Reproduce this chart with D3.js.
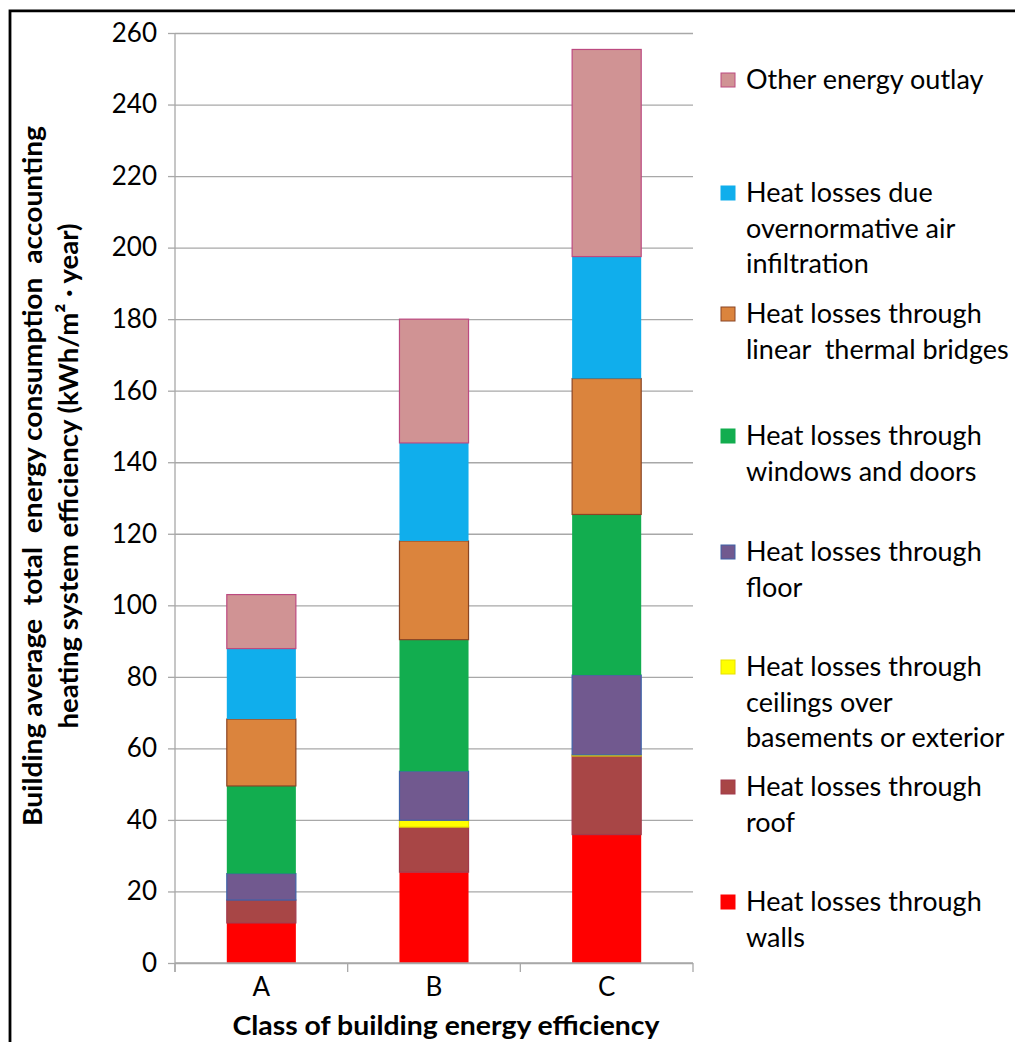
<!DOCTYPE html>
<html>
<head>
<meta charset="utf-8">
<script src="https://cdn.jsdelivr.net/npm/d3@7"></script>
<style>
  html, body { margin: 0; padding: 0; background: #fff; }
  svg { display: block; }
  text { font-family: Lato, "Open Sans", sans-serif; fill: #000; }
</style>
</head>
<body>
<div id="chart"></div>
<script>
// Building energy classes on the x axis
const categories = ["A", "B", "C"];

// Components of energy consumption, kWh/(m²·year), stacked bottom to top
const seriesKeys = ["walls", "roof", "ceilings", "floor", "windows", "bridges", "infiltration", "other"];
const walls        = [11.2, 25.4, 35.9];
const roof         = [6.4, 12.6, 22.0];
const ceilings     = [0.0, 1.9, 0.3];
const floorLoss    = [7.4, 13.7, 22.3];
const windows      = [24.5, 36.8, 44.9];
const bridges      = [18.7, 27.6, 38.0];
const infiltration = [19.7, 27.4, 34.1];
const other        = [15.1, 34.6, 57.9];

const yTicks = [0, 20, 40, 60, 80, 100, 120, 140, 160, 180, 200, 220, 240, 260];

// Legend entries, listed top to bottom, each broken into its text lines
const legendKeys = ["other", "infiltration", "bridges", "windows", "floor", "ceilings", "roof", "walls"];
const legendLabels = [
  ["Other energy outlay"],
  ["Heat losses due", "overnormative air", "infiltration"],
  ["Heat losses through", "linear  thermal bridges"],
  ["Heat losses through", "windows and doors"],
  ["Heat losses through", "floor"],
  ["Heat losses through", "ceilings over", "basements or exterior"],
  ["Heat losses through", "roof"],
  ["Heat losses through", "walls"]
];

const yTitleLines = ["Building average  total  energy consumption  accounting",
                     "heating system efficiency (kWh/m\u00B2 \u00B7 year)"];
const xTitle = "Class of building energy efficiency";

// ---- styling ----
const fills = {
  walls: "#FF0000", roof: "#A84646", ceilings: "#FFFF00", floor: "#71598F",
  windows: "#12AD4F", bridges: "#DB843D", infiltration: "#10AEEC", other: "#D09394"
};
const strokes = {
  walls: "none", roof: "#A23A4C", ceilings: "#E8E000", floor: "#3F62A8",
  windows: "none", bridges: "#8A4524", infiltration: "none", other: "#BC4A80"
};

const W = 1015, H = 1042;
const plot = { left: 175, right: 693, top: 33, bottom: 963 };
const legendFirstLine = [80, 193, 314, 436, 552, 667, 787, 902];
const legendLineGap = 35.5;

const svg = d3.select("#chart").append("svg")
  .attr("width", W).attr("height", H);

svg.append("rect").attr("width", W).attr("height", H).attr("fill", "#fff");

const x = d3.scaleBand()
  .domain(categories)
  .range([plot.left, plot.right])
  .paddingInner(0.6)
  .paddingOuter(0.3);

const y = d3.scaleLinear()
  .domain([0, 260])
  .range([plot.bottom, plot.top]);

// gridlines
svg.append("g")
  .attr("transform", `translate(${plot.left},0)`)
  .call(d3.axisLeft(y).tickValues(yTicks).tickSize(-(plot.right - plot.left)).tickFormat(""))
  .call(g => g.select(".domain").remove())
  .call(g => g.selectAll("line").attr("stroke", "#A8A8A8").attr("stroke-width", 1.3));

// stacked bars
const seriesValues = { walls, roof, ceilings, floor: floorLoss, windows, bridges, infiltration, other };
const rows = categories.map((c, i) => {
  const r = { cat: c };
  seriesKeys.forEach(k => { r[k] = seriesValues[k][i]; });
  return r;
});
const stacked = d3.stack().keys(seriesKeys)(rows);

svg.append("g").selectAll("g")
  .data(stacked)
  .join("g")
  .attr("fill", d => fills[d.key])
  .attr("stroke", d => strokes[d.key])
  .attr("stroke-width", 1.2)
  .selectAll("rect")
  .data(d => d.filter(s => s[1] - s[0] > 0))
  .join("rect")
  .attr("x", d => x(d.data.cat))
  .attr("width", x.bandwidth())
  .attr("y", d => y(d[1]))
  .attr("height", d => y(d[0]) - y(d[1]));

// y axis
const yAxis = svg.append("g")
  .attr("transform", `translate(${plot.left},0)`)
  .call(d3.axisLeft(y).tickValues(yTicks).tickSize(7).tickPadding(11));
yAxis.select(".domain").attr("stroke", "#A8A8A8").attr("stroke-width", 1.3)
  .attr("d", `M0,${plot.top}V${plot.bottom + 9}`);
yAxis.selectAll("line").attr("stroke", "#A8A8A8").attr("stroke-width", 1.3);
yAxis.selectAll("text").style("font-size", "26px").style("font-family", "Lato, sans-serif").attr("fill", "#000");

// x axis: baseline, separators between classes, class labels
const xAxis = svg.append("g")
  .attr("transform", `translate(0,${plot.bottom})`)
  .call(d3.axisBottom(x).tickSize(0).tickPadding(15));
xAxis.select(".domain").attr("stroke", "#A8A8A8").attr("stroke-width", 1.3)
  .attr("d", `M${plot.left},0H${plot.right}`);
xAxis.selectAll("text").style("font-size", "26px").style("font-family", "Lato, sans-serif").attr("fill", "#000");
const bounds = d3.range(categories.length + 1).map(i => x.range()[0] + i * x.step());
xAxis.selectAll("line.sep")
  .data(bounds)
  .join("line")
  .attr("class", "sep")
  .attr("x1", d => d).attr("x2", d => d)
  .attr("y1", 0).attr("y2", 9)
  .attr("stroke", "#A8A8A8").attr("stroke-width", 1.3);

// axis titles
const yTitleLengths = [700, 505];
const yTitle = svg.append("text")
  .attr("transform", "translate(0,476) rotate(-90)")
  .attr("text-anchor", "middle")
  .style("font-size", "27px").style("font-weight", "bold");
yTitle.selectAll("tspan")
  .data(yTitleLines)
  .join("tspan")
  .attr("x", 0)
  .attr("y", (d, i) => 42 + i * 36)
  .attr("textLength", (d, i) => yTitleLengths[i])
  .attr("lengthAdjust", "spacingAndGlyphs")
  .style("white-space", "pre")
  .text(d => d);

svg.append("text")
  .attr("x", 446).attr("y", 1035)
  .attr("text-anchor", "middle")
  .attr("textLength", 427)
  .attr("lengthAdjust", "spacingAndGlyphs")
  .style("font-size", "27px").style("font-weight", "bold")
  .text(xTitle);

// legend
const legend = svg.append("g");
legendKeys.forEach((k, i) => {
  const cy = legendFirstLine[i];
  legend.append("rect")
    .attr("x", 721).attr("y", cy - 7)
    .attr("width", 14).attr("height", 14)
    .attr("fill", fills[k])
    .attr("stroke", strokes[k] === "none" ? fills[k] : strokes[k])
    .attr("stroke-width", 1);
  const t = legend.append("text")
    .style("font-size", "27px")
    .style("white-space", "pre");
  t.selectAll("tspan")
    .data(legendLabels[i])
    .join("tspan")
    .attr("x", 746)
    .attr("y", (d, j) => cy + 9 + j * legendLineGap)
    .text(d => d);
});

// frame
svg.append("path")
  .attr("d", `M10,${H}V10.8H${W}`)
  .attr("fill", "none")
  .attr("stroke", "#000")
  .attr("stroke-width", 2.8);
</script>
</body>
</html>
